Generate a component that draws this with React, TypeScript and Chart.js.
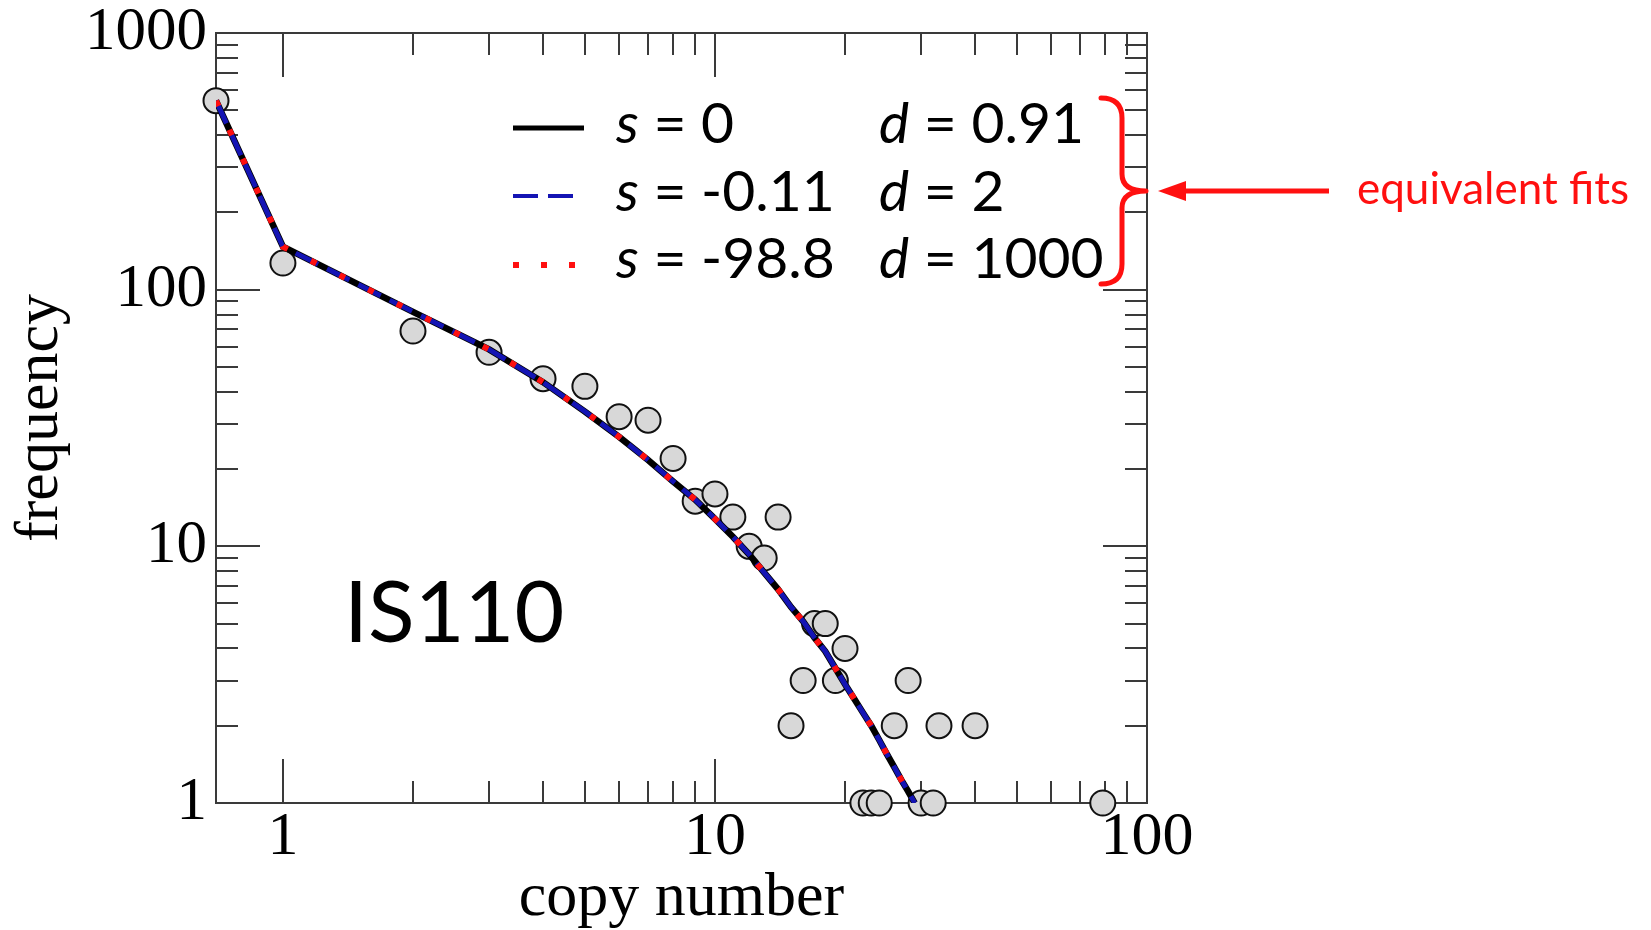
import React, { useEffect, useRef } from 'react';
import { Chart, registerables } from 'chart.js';

Chart.register(...registerables);

// ---- data ----
const copyNumbers = [0.7, 1, 2, 3, 4, 5, 6, 7, 8, 9, 10, 11, 12, 13, 14, 15, 16, 17, 18, 19, 20, 22, 23, 24, 26, 28, 30, 32, 33, 40, 79];
const frequencies = [545, 127, 69, 57, 45, 42, 32, 31, 22, 15, 16, 13, 10, 9, 13, 2, 3, 5, 5, 3, 4, 1, 1, 1, 2, 3, 1, 1, 2, 2, 1];

const fitCopyNumbers = [0.7, 1, 2, 3, 4, 5, 6, 7, 8, 9, 10, 11, 12, 13, 14, 15, 16, 17, 18, 19, 20, 21, 22, 23, 24, 25, 26, 27, 28, 29];
const fitS0 = [545, 147, 82, 58.5, 43.6, 33.5, 26.7, 21.7, 17.9, 15.2, 12.8, 10.9, 9.3, 7.9, 6.8, 5.8, 5.1, 4.4, 3.9, 3.35, 2.9, 2.55, 2.25, 2.0, 1.76, 1.55, 1.38, 1.23, 1.11, 1.0];
const fitSm011 = [545, 147, 82, 58.5, 43.6, 33.5, 26.7, 21.7, 17.9, 15.2, 12.8, 10.9, 9.3, 7.9, 6.8, 5.8, 5.1, 4.4, 3.9, 3.35, 2.9, 2.55, 2.25, 2.0, 1.76, 1.55, 1.38, 1.23, 1.11, 1.0];
const fitSm988 = [545, 147, 82, 58.5, 43.6, 33.5, 26.7, 21.7, 17.9, 15.2, 12.8, 10.9, 9.3, 7.9, 6.8, 5.8, 5.1, 4.4, 3.9, 3.35, 2.9, 2.55, 2.25, 2.0, 1.76, 1.55, 1.38, 1.23, 1.11, 1.0];

const xMajorTicks = [1, 10, 100];
const xMinorTicks = [2, 3, 4, 5, 6, 7, 8, 9, 20, 30, 40, 50, 60, 70, 80, 90];
const yMajorTicks = [1, 10, 100, 1000];
const yMinorTicks = [2, 3, 4, 5, 6, 7, 8, 9, 20, 30, 40, 50, 60, 70, 80, 90, 200, 300, 400, 500, 600, 700, 800, 900];

const legendS = ['0', '-0.11', '-98.8'];
const legendD = ['0.91', '2', '1000'];
const xTitle = 'copy number';
const yTitle = 'frequency';
const panelLabel = 'IS110';
const annotationText = 'equivalent fits';

const BLUE = '#1414b4';
const RED = '#ff1010';
const AXIS = '#3a3a3a';

const toXY = (xs: number[], ys: number[]) => xs.map((x, i) => ({ x, y: ys[i] }));

const frameAndTicks = {
  id: 'frameAndTicks',
  beforeDatasetsDraw(chart: any) {
    const { ctx, chartArea: a, scales } = chart;
    const xs = scales.x;
    const ys = scales.y;
    ctx.save();
    ctx.strokeStyle = AXIS;
    ctx.lineWidth = 2;
    ctx.setLineDash([]);
    ctx.strokeRect(a.left, a.top, a.right - a.left, a.bottom - a.top);
    ctx.beginPath();
    const vTick = (v: number, len: number) => {
      const p = Math.round(xs.getPixelForValue(v));
      ctx.moveTo(p, a.bottom);
      ctx.lineTo(p, a.bottom - len);
      ctx.moveTo(p, a.top);
      ctx.lineTo(p, a.top + len);
    };
    const hTick = (v: number, len: number) => {
      const p = Math.round(ys.getPixelForValue(v));
      ctx.moveTo(a.left, p);
      ctx.lineTo(a.left + len, p);
      ctx.moveTo(a.right, p);
      ctx.lineTo(a.right - len, p);
    };
    xMajorTicks.forEach((v) => vTick(v, 44));
    xMinorTicks.forEach((v) => vTick(v, 22));
    yMajorTicks.forEach((v) => hTick(v, 44));
    yMinorTicks.forEach((v) => hTick(v, 22));
    ctx.stroke();
    ctx.restore();
  },
};

const overlay = {
  id: 'overlay',
  afterDraw(chart: any) {
    const { ctx } = chart;
    ctx.save();
    // legend samples
    const lx0 = 513;
    const rowsY = [128, 196, 265];
    ctx.lineCap = 'butt';
    ctx.strokeStyle = '#000';
    ctx.lineWidth = 5;
    ctx.setLineDash([]);
    ctx.beginPath();
    ctx.moveTo(lx0, rowsY[0]);
    ctx.lineTo(lx0 + 71, rowsY[0]);
    ctx.stroke();
    ctx.strokeStyle = BLUE;
    ctx.lineWidth = 4;
    ctx.setLineDash([25, 10]);
    ctx.beginPath();
    ctx.moveTo(lx0, rowsY[1]);
    ctx.lineTo(lx0 + 61, rowsY[1]);
    ctx.stroke();
    ctx.strokeStyle = RED;
    ctx.lineWidth = 6;
    ctx.setLineDash([6, 22]);
    ctx.beginPath();
    ctx.moveTo(lx0, rowsY[2]);
    ctx.lineTo(lx0 + 62, rowsY[2]);
    ctx.stroke();
    ctx.setLineDash([]);

    // legend text
    const baselines = [143, 211, 278];
    ctx.fillStyle = '#000';
    ctx.textBaseline = 'alphabetic';
    ctx.textAlign = 'left';
    const fs = 57;
    const drawPair = (x: number, y: number, sym: string, val: string) => {
      ctx.font = `italic ${fs}px Lato`;
      ctx.fillText(sym, x, y);
      const w = ctx.measureText(sym).width;
      ctx.font = `${fs}px Lato`;
      ctx.fillText(' = ' + val, x + w, y);
    };
    for (let i = 0; i < 3; i++) {
      drawPair(616, baselines[i], 's', legendS[i]);
      drawPair(879, baselines[i], 'd', legendD[i]);
    }

    // panel label
    ctx.font = '86px Lato';
    ctx.fillText(panelLabel, 344, 642);

    // brace
    ctx.strokeStyle = RED;
    ctx.fillStyle = RED;
    ctx.lineWidth = 5;
    ctx.lineCap = 'round';
    ctx.lineJoin = 'round';
    ctx.beginPath();
    ctx.moveTo(1101, 98);
    ctx.quadraticCurveTo(1122, 98, 1122, 118);
    ctx.lineTo(1122, 174);
    ctx.quadraticCurveTo(1122, 191, 1146, 191);
    ctx.quadraticCurveTo(1122, 191, 1122, 208);
    ctx.lineTo(1122, 264);
    ctx.quadraticCurveTo(1122, 284, 1101, 284);
    ctx.stroke();

    // arrow
    ctx.lineCap = 'butt';
    ctx.beginPath();
    ctx.moveTo(1180, 191);
    ctx.lineTo(1329, 191);
    ctx.stroke();
    ctx.beginPath();
    ctx.moveTo(1158, 191);
    ctx.lineTo(1186, 181);
    ctx.lineTo(1186, 201);
    ctx.closePath();
    ctx.fill();

    ctx.font = '44px Lato';
    ctx.fillText(annotationText, 1357, 204);
    ctx.restore();
  },
};

export default function App() {
  const ref = useRef<HTMLCanvasElement | null>(null);
  useEffect(() => {
    if (!ref.current) return;
    const serif = 'Liberation Serif';
    const chart = new Chart(ref.current, {
      type: 'scatter',
      data: {
        datasets: [
          {
            label: 'fit s=-98.8',
            type: 'line',
            data: toXY(fitCopyNumbers, fitSm988),
            borderColor: RED,
            borderWidth: 6,
            borderDash: [6, 26],
            borderCapStyle: 'butt',
            pointRadius: 0,
            tension: 0,
            fill: false,
            order: 1,
          } as any,
          {
            label: 'fit s=-0.11',
            type: 'line',
            data: toXY(fitCopyNumbers, fitSm011),
            borderColor: BLUE,
            borderWidth: 5,
            borderDash: [25, 10],
            pointRadius: 0,
            tension: 0,
            fill: false,
            order: 2,
          } as any,
          {
            label: 'fit s=0',
            type: 'line',
            data: toXY(fitCopyNumbers, fitS0),
            borderColor: '#000',
            borderWidth: 6.5,
            pointRadius: 0,
            tension: 0,
            fill: false,
            order: 3,
          } as any,
          {
            label: 'data',
            data: toXY(copyNumbers, frequencies),
            pointRadius: 12.5,
            pointBackgroundColor: '#d8d8d8',
            pointBorderColor: '#111',
            pointBorderWidth: 2,
            showLine: false,
            clip: false,
            order: 4,
          } as any,
        ],
      },
      options: {
        responsive: false,
        animation: false,
        devicePixelRatio: 1,
        layout: { padding: { top: 33, right: 504, bottom: 0, left: 0 } },
        plugins: { legend: { display: false }, tooltip: { enabled: false } },
        scales: {
          x: {
            type: 'logarithmic',
            min: 0.7,
            max: 100,
            grid: { display: false, drawTicks: false },
            border: { display: false },
            afterBuildTicks: (s: any) => {
              s.ticks = xMajorTicks.map((v) => ({ value: v }));
            },
            afterFit: (s: any) => {
              s.height = 127;
            },
            ticks: {
              autoSkip: false,
              maxRotation: 0,
              padding: 4,
              color: '#000',
              font: { family: serif, size: 62, lineHeight: 1 },
              callback: (v: any) => String(v),
            },
            title: {
              display: true,
              text: xTitle,
              color: '#000',
              font: { family: serif, size: 62, lineHeight: 1.0 },
              padding: { top: 0, bottom: 0 },
            },
          },
          y: {
            type: 'logarithmic',
            min: 1,
            max: 1000,
            grid: { display: false, drawTicks: false },
            border: { display: false },
            afterBuildTicks: (s: any) => {
              s.ticks = yMajorTicks.map((v) => ({ value: v }));
            },
            afterFit: (s: any) => {
              s.width = 216;
            },
            ticks: {
              autoSkip: false,
              padding: 9,
              color: '#000',
              font: { family: serif, size: 61, lineHeight: 0.7 },
              callback: (v: any) => String(v),
            },
            title: {
              display: true,
              text: yTitle,
              color: '#000',
              font: { family: serif, size: 62, lineHeight: 1.32 },
              padding: { top: 0, bottom: 0 },
            },
          },
        },
      } as any,
      plugins: [frameAndTicks, overlay],
    });
    return () => chart.destroy();
  }, []);
  return (
    <div style={{ position: 'fixed', left: 0, top: 0, width: 1651, height: 930, background: '#fff' }}>
      <canvas ref={ref} width={1651} height={930} style={{ display: 'block' }} />
    </div>
  );
}
